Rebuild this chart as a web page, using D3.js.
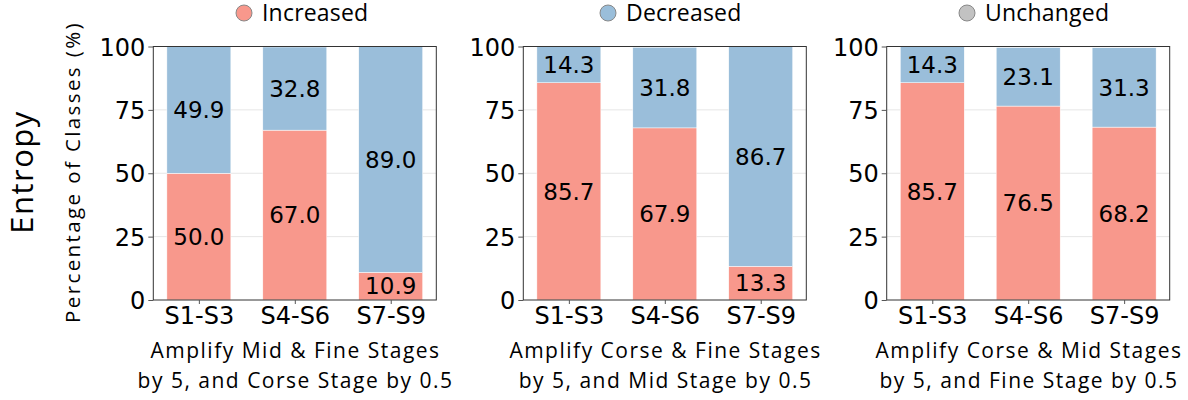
<!DOCTYPE html>
<html><head><meta charset="utf-8">
<script src="https://cdn.jsdelivr.net/npm/d3@7"></script>
<style>body{margin:0;background:#fff}</style>
</head><body>
<svg id="c" width="1188" height="400"></svg>
<script>
const categories = ["S1-S3", "S4-S6", "S7-S9"];
const panelTitles = [
  ["Amplify Mid & Fine Stages", "by 5, and Corse Stage by 0.5"],
  ["Amplify Corse & Fine Stages", "by 5, and Mid Stage by 0.5"],
  ["Amplify Corse & Mid Stages", "by 5, and Fine Stage by 0.5"]
];
const increased = [
  [50.0, 67.0, 10.9],
  [85.7, 67.9, 13.3],
  [85.7, 76.5, 68.2]
];
const decreased = [
  [49.9, 32.8, 89.0],
  [14.3, 31.8, 86.7],
  [14.3, 23.1, 31.3]
];
const yTicks = [0, 25, 50, 75, 100];
const legendLabels = ["Increased", "Decreased", "Unchanged"];
const rowLabel = "Entropy";
const yLabel = "Percentage of Classes (%)";

(function () {
const colInc = "#F8988C", colDec = "#9ABEDA", colUnc = "#C2C2C2";
const svg = d3.select("#c");
const sansH = "'Open Sans', Lato, sans-serif";
const dv = "'DejaVu Sans', sans-serif";

const panelLeft = [153.3, 523.3, 886.7];
const pw = 283, yTop = 46.5, yBot = 300;
const y = d3.scaleLinear().domain([0, 100]).range([yBot, yTop]);
const bw = 0.667;

panelLeft.forEach((pl, p) => {
  const x = d3.scaleLinear().domain([-0.475, 2.475]).range([pl, pl + pw]);
  const g = svg.append("g");
  g.selectAll("line.grid").data(yTicks.filter(t => t > 0 && t < 100)).enter()
    .append("line").attr("x1", pl).attr("x2", pl + pw)
    .attr("y1", d => y(d)).attr("y2", d => y(d))
    .attr("stroke", "#e6e6e6").attr("stroke-width", 1);
  const dx = (x(1) - x(0)) * bw;
  g.selectAll("rect.inc").data(increased[p]).enter().append("rect")
    .attr("x", (d, i) => x(i) - dx / 2).attr("width", dx)
    .attr("y", d => y(d)).attr("height", d => y(0) - y(d))
    .attr("fill", colInc).attr("stroke", "#fff").attr("stroke-width", 0.5);
  g.selectAll("rect.dec").data(decreased[p]).enter().append("rect")
    .attr("x", (d, i) => x(i) - dx / 2).attr("width", dx)
    .attr("y", (d, i) => y(increased[p][i] + d))
    .attr("height", (d, i) => y(increased[p][i]) - y(increased[p][i] + d))
    .attr("fill", colDec).attr("stroke", "#fff").attr("stroke-width", 0.5);
  increased[p].forEach((v, i) => {
    g.append("text").attr("x", x(i)).attr("y", y(v / 2)).attr("dy", "0.36em")
      .attr("text-anchor", "middle").style("font-family", dv).style("font-size", "23px")
      .attr("fill", "#000").text(v.toFixed(1));
    const d = decreased[p][i];
    g.append("text").attr("x", x(i)).attr("y", y(v + d / 2)).attr("dy", "0.36em")
      .attr("text-anchor", "middle").style("font-family", dv).style("font-size", "23px")
      .attr("fill", "#000").text(d.toFixed(1));
  });
  g.append("rect").attr("x", pl).attr("y", yTop).attr("width", pw).attr("height", yBot - yTop)
    .attr("fill", "none").attr("stroke", "#333").attr("stroke-width", 1);
  const ya = g.append("g").attr("transform", `translate(${pl},0)`)
    .call(d3.axisLeft(y).tickValues(yTicks).tickSize(5).tickPadding(3));
  ya.select(".domain").remove();
  ya.selectAll("line").attr("stroke", "#555");
  ya.selectAll("text").style("font-family", dv).style("font-size", "24px").attr("fill", "#000").attr("dy", "0.36em");
  const xa = g.append("g").attr("transform", `translate(0,${yBot})`)
    .call(d3.axisBottom(x).tickValues([0, 1, 2]).tickFormat(i => categories[i]).tickSize(4).tickPadding(3));
  xa.select(".domain").remove();
  xa.selectAll("line").attr("stroke", "#555");
  xa.selectAll("text").style("font-family", dv).style("font-size", "24px").attr("fill", "#000");
  panelTitles[p].forEach((t, k) => {
    g.append("text").attr("x", pl + pw / 2 + 0.75).attr("y", 358 + k * 30).attr("text-anchor", "middle")
      .style("font-family", sansH).style("font-size", "21px").style("letter-spacing", "1.5px")
      .attr("fill", "#000").text(t);
  });
});

svg.append("text").attr("transform", "translate(80,172) rotate(-90)").attr("text-anchor", "middle")
  .style("font-family", sansH).style("font-size", "20.5px").style("letter-spacing", "2.4px")
  .attr("fill", "#000").text(yLabel);
svg.append("text").attr("transform", "translate(33,172) rotate(-90)").attr("text-anchor", "middle")
  .style("font-family", sansH).style("font-size", "31px").style("letter-spacing", "1.5px")
  .attr("fill", "#000").text(rowLabel);

const legX = [244, 608, 967];
const legCol = [colInc, colDec, colUnc];
legendLabels.forEach((l, i) => {
  svg.append("circle").attr("cx", legX[i]).attr("cy", 13).attr("r", 8)
    .attr("fill", legCol[i]).attr("stroke", "#888").attr("stroke-width", 1);
  svg.append("text").attr("x", legX[i] + 18).attr("y", 21).style("font-family", sansH)
    .style("font-size", "23px").style("letter-spacing", "0.2px").attr("fill", "#000").text(l);
});
})();
</script>
</body></html>
